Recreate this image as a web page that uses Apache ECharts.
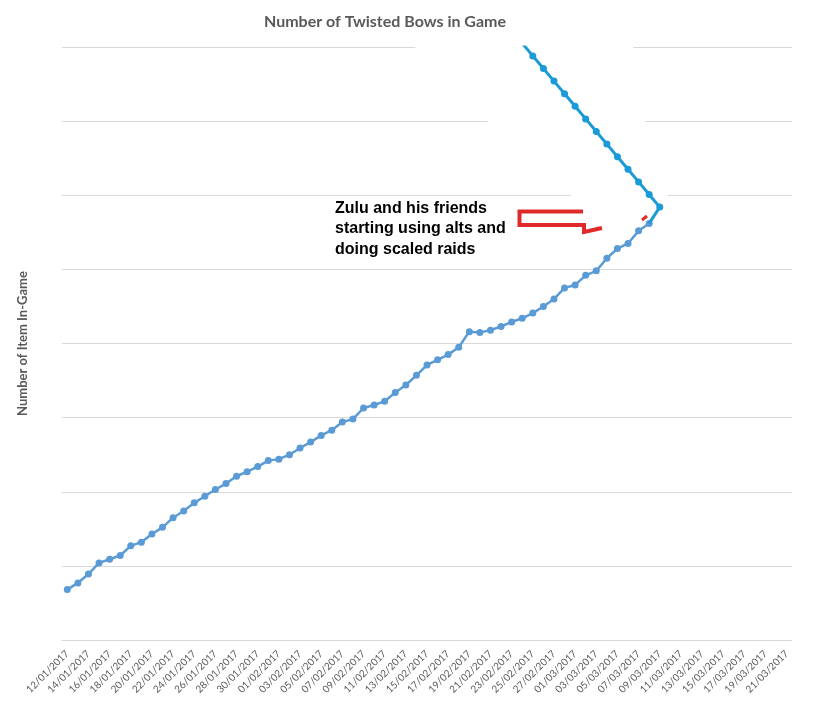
<!DOCTYPE html>
<html>
<head>
<meta charset="utf-8">
<title>Number of Twisted Bows in Game</title>
<script src="https://cdn.jsdelivr.net/npm/echarts@6/dist/echarts.min.js"></script>
<style>
  html, body {
    margin: 0;
    padding: 0;
    background: #fff;
  }
  #chart {
    width: 823px;
    height: 713px;
  }
</style>
</head>
<body>
<div id="chart"></div>
<script>
// 日期：12/01/2017 ~ 21/03/2017，每天一个点
const startDay = new Date(2017, 0, 12);
const dayCount = 69;
const dates = [];
for (let i = 0; i < dayCount; i++) {
  let d = new Date(startDay.getFullYear(), startDay.getMonth(), startDay.getDate() + i);
  let dd = ('0' + d.getDate()).slice(-2);
  let mm = ('0' + (d.getMonth() + 1)).slice(-2);
  dates.push(dd + '/' + mm + '/' + d.getFullYear());
}

// 原图纵轴没有刻度数字，按网格估计的数值
const bowCount = [
  68, 77, 89, 104, 109, 114, 127, 132, 143, 152,
  165, 174, 185, 194, 203, 211, 221, 227, 234, 242,
  244, 250, 259, 267, 276, 283, 294, 298, 313, 317,
  322, 334, 344, 357, 371, 378, 385, 395, 416, 415,
  418, 423, 429, 434, 441, 450, 460, 475, 479, 492,
  498, 515, 528, 535, 552, 562
];

// 往下走的那段亮蓝色线（从 21/02 开始）
const invertedStart = 43;
const invertedCount = [
  805, 788, 771, 754, 737, 720, 703, 686, 669, 652,
  635, 618, 601, 584
];

const yMin = 0;
const yMax = 800;
const yStep = 100;

const noteLines = [
  'Zulu and his friends',
  'starting using alts and',
  'doing scaled raids'
];

// 亮蓝线用 [类目下标, 数值]，最后回连到浅蓝线的末点
let invertedData = invertedCount.map(function (v, i) {
  return [invertedStart + i, v];
});
let lastIdx = bowCount.length - 1;
invertedData.push({
  value: [lastIdx, bowCount[lastIdx]],
  symbol: 'none'
});

const option = {
  animation: false,
  backgroundColor: '#fff',
  title: {
    text: 'Number of Twisted Bows in Game',
    left: 259,
    top: 9,
    textStyle: {
      fontFamily: 'Lato',
      fontSize: 16,
      fontWeight: 'bold',
      color: '#595959'
    }
  },
  grid: {
    left: 62,
    right: 31,
    top: 47,
    bottom: 73,
    containLabel: false
  },
  xAxis: {
    type: 'category',
    data: dates,
    boundaryGap: true,
    axisLine: {
      show: true,
      lineStyle: { color: '#d9d9d9' }
    },
    axisTick: { show: false },
    axisLabel: {
      interval: 1,
      rotate: 45,
      margin: 12,
      fontFamily: 'Lato',
      fontSize: 10,
      color: '#595959'
    }
  },
  yAxis: {
    type: 'value',
    min: yMin,
    max: yMax,
    interval: yStep,
    name: 'Number of Item In-Game',
    nameLocation: 'middle',
    nameGap: 33,
    nameTextStyle: {
      fontFamily: 'Lato',
      fontSize: 13,
      fontWeight: 'bold',
      color: '#595959'
    },
    axisLine: { show: false },
    axisTick: { show: false },
    axisLabel: { show: false },
    splitLine: {
      lineStyle: { color: '#d9d9d9', width: 1 }
    }
  },
  series: [
    {
      name: 'Twisted Bows',
      type: 'line',
      data: bowCount,
      symbol: 'circle',
      symbolSize: 7,
      lineStyle: { color: '#5b9bd5', width: 2.5 },
      itemStyle: { color: '#5b9bd5' },
      z: 3
    },
    {
      name: 'Twisted Bows (alts)',
      type: 'line',
      data: invertedData,
      symbol: 'circle',
      symbolSize: 7,
      clip: true,
      lineStyle: { color: '#1a9bd7', width: 3 },
      itemStyle: { color: '#1a9bd7' },
      z: 4
    }
  ],
  graphic: [
    {
      // 原图里贴上去的白色块，盖住了部分网格线
      type: 'polygon',
      z: 1,
      shape: {
        points: [[408, 40], [632, 40], [645, 121], [668, 196], [640, 224], [575, 199], [487, 121]]
      },
      style: {
        fill: '#fff',
        stroke: null
      }
    },
    {
      type: 'text',
      left: 335,
      top: 198,
      style: {
        text: noteLines.join('\n'),
        fontFamily: 'Liberation Sans',
        fontSize: 16,
        fontWeight: 'bold',
        lineHeight: 20.5,
        fill: '#000'
      },
      z: 10
    },
    {
      // 手画的红色括号
      type: 'polyline',
      shape: {
        points: [[583, 211.5], [519.5, 211.5], [519.5, 225], [584, 225], [584, 232], [602, 228]]
      },
      style: {
        stroke: '#e02a2a',
        lineWidth: 4,
        fill: null,
        lineJoin: 'miter'
      },
      z: 10
    },
    {
      type: 'polyline',
      shape: {
        points: [[642, 220], [647, 216]]
      },
      style: {
        stroke: '#e02a2a',
        lineWidth: 3,
        fill: null
      },
      z: 10
    }
  ]
};

let chart = echarts.init(document.getElementById('chart'));
chart.setOption(option);
</script>
</body>
</html>
